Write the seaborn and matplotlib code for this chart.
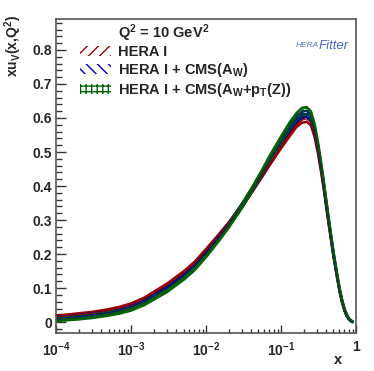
import numpy as np
import pandas as pd
import matplotlib
matplotlib.use("Agg")
import matplotlib.pyplot as plt
from matplotlib.patches import Patch
from matplotlib.ticker import FixedLocator, NullFormatter, MultipleLocator
import seaborn as sns

# ---------------------------------------------------------------------------
# data (xu_v at Q^2 = 10 GeV^2)
# ---------------------------------------------------------------------------
x_vals = [1e-4, 1.5e-4, 2e-4, 3e-4, 5e-4, 7e-4, 1e-3, 1.5e-3, 2e-3, 3e-3,
          5e-3, 7e-3, 1e-2, 1.5e-2, 2e-2, 3e-2, 4e-2, 5.5e-2, 7e-2, 0.1,
          0.13, 0.16, 0.19, 0.22, 0.25, 0.28, 0.31, 0.34, 0.37, 0.40,
          0.43, 0.46, 0.50, 0.55, 0.60, 0.65, 0.70, 0.75, 0.80, 0.85, 0.90]
hera = [0.016, 0.019, 0.022, 0.026, 0.034, 0.041, 0.051, 0.068, 0.085, 0.108,
        0.144, 0.172, 0.210, 0.255, 0.288, 0.342, 0.383, 0.430, 0.466, 0.517,
        0.553, 0.580, 0.594, 0.597, 0.586, 0.552, 0.504, 0.451, 0.398, 0.344,
        0.295, 0.251, 0.197, 0.143, 0.096, 0.061, 0.036, 0.020, 0.010, 0.004, 0.001]
cms_aw = [0.011, 0.014, 0.017, 0.021, 0.028, 0.035, 0.045, 0.061, 0.077, 0.100,
          0.136, 0.164, 0.203, 0.250, 0.285, 0.342, 0.385, 0.435, 0.475, 0.530,
          0.568, 0.595, 0.610, 0.612, 0.600, 0.565, 0.515, 0.460, 0.405, 0.350,
          0.300, 0.255, 0.200, 0.145, 0.097, 0.062, 0.037, 0.020, 0.010, 0.004, 0.001]
cms_aw_ptz = [0.008, 0.011, 0.013, 0.017, 0.024, 0.030, 0.039, 0.055, 0.071, 0.093,
              0.129, 0.157, 0.196, 0.245, 0.282, 0.341, 0.386, 0.438, 0.480, 0.537,
              0.577, 0.604, 0.619, 0.621, 0.609, 0.573, 0.522, 0.466, 0.410, 0.354,
              0.304, 0.258, 0.203, 0.147, 0.099, 0.063, 0.038, 0.021, 0.010, 0.004, 0.001]
err_hera = [0.004, 0.004, 0.004, 0.004, 0.004, 0.004, 0.004, 0.004, 0.004, 0.005,
            0.005, 0.005, 0.005, 0.005, 0.005, 0.005, 0.005, 0.006, 0.006, 0.006,
            0.007, 0.007, 0.008, 0.008, 0.008, 0.008, 0.007, 0.007, 0.006, 0.006,
            0.005, 0.005, 0.004, 0.004, 0.003, 0.003, 0.002, 0.002, 0.001, 0.001, 0.001]
err_aw = [0.004, 0.004, 0.004, 0.004, 0.004, 0.004, 0.004, 0.004, 0.004, 0.004,
          0.004, 0.004, 0.004, 0.004, 0.004, 0.005, 0.005, 0.006, 0.006, 0.007,
          0.008, 0.008, 0.009, 0.009, 0.009, 0.008, 0.007, 0.007, 0.006, 0.006,
          0.005, 0.005, 0.004, 0.004, 0.003, 0.003, 0.002, 0.002, 0.001, 0.001, 0.001]
err_ptz = [0.005, 0.005, 0.005, 0.005, 0.005, 0.005, 0.005, 0.005, 0.005, 0.005,
           0.005, 0.005, 0.005, 0.005, 0.005, 0.006, 0.006, 0.007, 0.008, 0.009,
           0.010, 0.010, 0.011, 0.011, 0.011, 0.010, 0.009, 0.008, 0.007, 0.007,
           0.006, 0.005, 0.005, 0.004, 0.004, 0.003, 0.002, 0.002, 0.001, 0.001, 0.001]

labels = ["HERA I", "HERA I + CMS(A$_{W}$)", "HERA I + CMS(A$_{W}$+p$_{T}$(Z))"]
legend_title = "Q$^{2}$ = 10 GeV$^{2}$"
colors = ["#9a0000", "#0000a0", "#006400"]
hatches = ["///", "\\\\\\", "+++"]
xtick_vals = [1e-4, 1e-3, 1e-2, 1e-1, 1]
xtick_labels = ["10$^{-4}$", "10$^{-3}$", "10$^{-2}$", "10$^{-1}$", "1"]

rows = []
for name, cen, err in zip(labels, [hera, cms_aw, cms_aw_ptz], [err_hera, err_aw, err_ptz]):
    for xv, c, e in zip(x_vals, cen, err):
        rows.append({"x": xv, "xuv": c, "lo": c - e, "hi": c + e, "fit": name})
df = pd.DataFrame(rows)

# ---------------------------------------------------------------------------
sns.set_style("ticks")
plt.rcParams["font.family"] = ["Liberation Sans", "DejaVu Sans"]
plt.rcParams["font.weight"] = "bold"
plt.rcParams["mathtext.fontset"] = "custom"
plt.rcParams["mathtext.rm"] = "Liberation Sans:bold"
plt.rcParams["mathtext.bf"] = "Liberation Sans:bold"
plt.rcParams["mathtext.it"] = "Liberation Sans:bold"
plt.rcParams["mathtext.default"] = "bf"
plt.rcParams["hatch.linewidth"] = 1.0

fig = plt.figure(figsize=(3.74, 3.71), dpi=100)
ax = fig.add_axes([0.150, 0.1024, 0.802, 0.8464])

for name, col, hat in zip(labels, colors, hatches):
    d = df[df["fit"] == name]
    ax.fill_between(d["x"], d["lo"], d["hi"], facecolor="none", edgecolor=col,
                    hatch=hat, linewidth=0)
    ax.plot(d["x"], d["lo"], color=col, lw=1.8)
    ax.plot(d["x"], d["hi"], color=col, lw=1.8)

sns.lineplot(data=df, x="x", y="xuv", hue="fit", palette=colors, ax=ax,
             legend=False, linewidth=0.7, estimator=None)

ax.set_xscale("log")
ax.set_xlim(1e-4, 1)
ax.xaxis.set_major_locator(FixedLocator(xtick_vals))
ax.set_xticklabels(xtick_labels)
ax.xaxis.set_minor_formatter(NullFormatter())
ax.yaxis.set_major_locator(FixedLocator([0, 0.1, 0.2, 0.3, 0.4, 0.5, 0.6, 0.7, 0.8]))
ax.set_yticklabels(["0", "0.1", "0.2", "0.3", "0.4", "0.5", "0.6", "0.7", "0.8"])
ax.yaxis.set_minor_locator(MultipleLocator(0.02))
ax.set_ylim(-0.032, 0.891)

ax.tick_params(axis="both", which="both", direction="in", labelsize=10,
               color="#333333", width=1)
ax.tick_params(axis="y", which="major", length=7, pad=3)
ax.tick_params(axis="y", which="minor", length=4)
ax.tick_params(axis="x", which="major", length=6, pad=5)
ax.tick_params(axis="x", which="minor", length=3)
for s in ax.spines.values():
    s.set_color("#555555")
    s.set_linewidth(1.2)

ax.set_xlabel("x", fontsize=10.5, fontweight="bold")
ax.xaxis.set_label_coords(0.94, -0.065)
ax.set_ylabel("xu$_{V}$(x,Q$^{2}$)", fontsize=10, fontweight="bold")
ax.yaxis.set_label_coords(-0.107, 0.915)

handles = [Patch(facecolor="none", edgecolor="none", linewidth=0)]
handles += [Patch(facecolor="none", edgecolor=c, hatch=h, linewidth=0)
            for c, h in zip(colors, hatches)]
leg = ax.legend(handles, [legend_title] + labels, loc="upper left",
                bbox_to_anchor=(0.08, 0.99), frameon=False, fontsize=10.5,
                handlelength=2.1, handleheight=0.7, handletextpad=0.5,
                labelspacing=0.12, borderaxespad=0, borderpad=0)

ax.text(0.875, 0.915, "HERA", transform=ax.transAxes, fontsize=6, color="#5577cc",
        style="italic", ha="right", va="center", fontweight="normal")
ax.text(0.875, 0.915, "Fitter", transform=ax.transAxes, fontsize=9.5, color="#4466cc",
        style="italic", ha="left", va="center", fontweight="normal")

fig.savefig("out.png", dpi=100)
